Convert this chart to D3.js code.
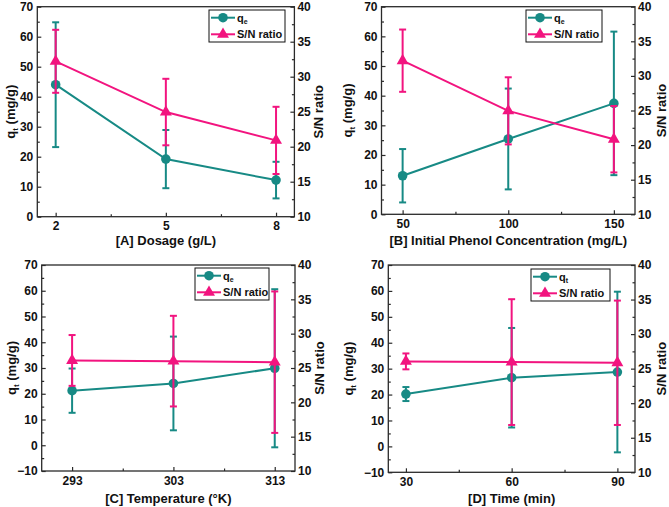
<!DOCTYPE html>
<html><head><meta charset="utf-8">
<script src="https://cdn.jsdelivr.net/npm/d3@7"></script>
<style>
body{margin:0;background:#fff}
text{font-family:"Liberation Sans",Arial,sans-serif;font-weight:bold;fill:#111}
</style>
</head><body>
<svg id="chart" width="669" height="507"></svg>
<script>
// ---------- data ----------
const dosage = [2, 5, 8];
const dosageQe = [44.0, 19.2, 12.2];
const dosageQeErr = [20.8, 9.7, 6.1];
const dosageSN = [32.2, 24.95, 20.9];
const dosageSNErr = [4.5, 4.75, 4.8];

const phenol = [50, 100, 150];
const phenolQe = [13.0, 25.4, 37.4];
const phenolQeErr = [9.0, 17.0, 24.2];
const phenolSN = [32.2, 24.95, 20.85];
const phenolSNErr = [4.5, 4.85, 4.8];

const temperature = [293, 303, 313];
const temperatureQe = [21.2, 24.0, 29.9];
const temperatureQeErr = [8.6, 18.2, 30.7];
const temperatureSN = [26.1, 26.0, 25.85];
const temperatureSNErr = [3.7, 6.6, 10.3];

const time = [30, 60, 90];
const timeQt = [20.2, 26.5, 28.7];
const timeQtErr = [2.7, 19.2, 31.0];
const timeSN = [26.05, 25.95, 25.85];
const timeSNErr = [1.15, 9.1, 9.0];

const xTitles = ["[A] Dosage (g/L)", "[B] Initial Phenol Concentration (mg/L)", "[C] Temperature (°K)", "[D] Time (min)"];
const legendSubs = ["e", "e", "e", "t"];
const yTitleSub = "t";
const leftTicksTop = [0, 10, 20, 30, 40, 50, 60, 70];
const leftTicksBottom = [-10, 0, 10, 20, 30, 40, 50, 60, 70];
const rightTicks = [10, 15, 20, 25, 30, 35, 40];
const snLabel = "S/N ratio";

// ---------- layout ----------
const teal = "#178a85", pink = "#f2147f", frameCol = "#2a2a2a";
const panels = [
  {x: dosage, q: dosageQe, qe: dosageQeErr, s: dosageSN, se: dosageSNErr,
   f: [37.3, 6.7, 294.4, 216.7], xd: [1.5, 8.5], yd: [0, 70], yt: leftTicksTop,
   leg: [209, 10, 285, 42], ylx: 10, yrx: 318, xty: 244.5},
  {x: phenol, q: phenolQe, qe: phenolQeErr, s: phenolSN, se: phenolSNErr,
   f: [381.5, 6.7, 635, 214.3], xd: [40, 160], yd: [0, 70], yt: leftTicksTop,
   leg: [526, 10, 602, 42], ylx: 347, yrx: 661, xty: 244.5},
  {x: temperature, q: temperatureQe, qe: temperatureQeErr, s: temperatureSN, se: temperatureSNErr,
   f: [41.7, 265, 295, 471], xd: [290, 315], yd: [-10, 70], yt: leftTicksBottom,
   leg: [195, 268, 269, 300], ylx: 11, yrx: 319, xty: 503},
  {x: time, q: timeQt, qe: timeQtErr, s: timeSN, se: timeSNErr,
   f: [388.3, 265, 635, 472.3], xd: [25, 95], yd: [-10, 70], yt: leftTicksBottom,
   leg: [531, 269, 610, 301], ylx: 348, yrx: 661, xty: 503}
];

const svg = d3.select("#chart");

function mids(arr){ const m=[]; for(let i=0;i<arr.length-1;i++) m.push((arr[i]+arr[i+1])/2); return m; }

function styleAxis(g){
  g.select(".domain").remove();
  g.selectAll(".tick line").attr("stroke", frameCol).attr("stroke-width", 1.2);
  g.selectAll(".tick text").style("font-size", "12px").attr("fill", "#111");
}

panels.forEach((p, i) => {
  const [x0, y0, x1, y1] = p.f;
  const xs = d3.scaleLinear().domain(p.xd).range([x0, x1]);
  const ys = d3.scaleLinear().domain(p.yd).range([y1, y0]);
  const y2 = d3.scaleLinear().domain([10, 40]).range([y1, y0]);
  const g = svg.append("g");

  // axes: ticks point inward
  const gx = g.append("g").attr("transform", `translate(0,${y1})`)
    .call(d3.axisBottom(xs).tickValues(p.x).tickSize(-4).tickPadding(8).tickFormat(d3.format("d")));
  styleAxis(gx);
  gx.selectAll(".tick text").attr("dy", "0.71em").attr("y", 5);
  g.append("g").attr("transform", `translate(0,${y1})`)
    .call(d3.axisBottom(xs).tickValues(mids(p.x)).tickSize(-2.5).tickFormat(""))
    .call(styleAxis);

  const gy = g.append("g").attr("transform", `translate(${x0},0)`)
    .call(d3.axisLeft(ys).tickValues(p.yt).tickSize(-4).tickPadding(4).tickFormat(d3.format("d")));
  styleAxis(gy);
  g.append("g").attr("transform", `translate(${x0},0)`)
    .call(d3.axisLeft(ys).tickValues(mids(p.yt)).tickSize(-2.5).tickFormat(""))
    .call(styleAxis);

  const gr = g.append("g").attr("transform", `translate(${x1},0)`)
    .call(d3.axisRight(y2).tickValues(rightTicks).tickSize(-4).tickPadding(3).tickFormat(d3.format("d")));
  styleAxis(gr);
  g.append("g").attr("transform", `translate(${x1},0)`)
    .call(d3.axisRight(y2).tickValues(mids(rightTicks)).tickSize(-2.5).tickFormat(""))
    .call(styleAxis);

  // frame
  g.append("rect").attr("x", x0).attr("y", y0).attr("width", x1 - x0).attr("height", y1 - y0)
    .attr("fill", "none").attr("stroke", frameCol).attr("stroke-width", 1.3);

  // axis titles
  g.append("text").attr("x", (x0 + x1) / 2).attr("y", p.xty).attr("text-anchor", "middle")
    .style("font-size", "13px").text(xTitles[i]);
  const yl = g.append("text").attr("transform", `translate(${p.ylx},${(y0 + y1) / 2}) rotate(-90)`)
    .attr("text-anchor", "middle").attr("dy", "0.35em").style("font-size", "13px");
  yl.append("tspan").text("q");
  yl.append("tspan").text(yTitleSub).style("font-size", "8px").attr("dy", 3);
  yl.append("tspan").text(" (mg/g)").attr("dy", -3);
  g.append("text").attr("transform", `translate(${p.yrx},${(y0 + y1) / 2}) rotate(-90)`)
    .attr("text-anchor", "middle").attr("dy", "0.35em").style("font-size", "13px").text(snLabel);

  // series
  const series = [
    {v: p.q, e: p.qe, sc: ys, col: teal, mark: d3.symbolCircle, size: 72},
    {v: p.s, e: p.se, sc: y2, col: pink, mark: d3.symbolTriangle, size: 62}
  ];
  series.forEach(s => {
    const idx = d3.range(p.x.length);
    const eb = g.append("g").attr("stroke", s.col).attr("stroke-width", 2);
    idx.forEach(k => {
      const cx = xs(p.x[k]), top = s.sc(s.v[k] + s.e[k]), bot = s.sc(s.v[k] - s.e[k]);
      eb.append("line").attr("x1", cx).attr("x2", cx).attr("y1", top).attr("y2", bot);
      eb.append("line").attr("x1", cx - 3.5).attr("x2", cx + 3.5).attr("y1", top).attr("y2", top);
      eb.append("line").attr("x1", cx - 3.5).attr("x2", cx + 3.5).attr("y1", bot).attr("y2", bot);
    });
    g.append("path").datum(idx)
      .attr("d", d3.line().x(k => xs(p.x[k])).y(k => s.sc(s.v[k])))
      .attr("fill", "none").attr("stroke", s.col).attr("stroke-width", 2);
    g.selectAll(null).data(idx).enter().append("path")
      .attr("transform", k => `translate(${xs(p.x[k])},${s.sc(s.v[k])})`)
      .attr("d", d3.symbol().type(s.mark).size(s.size)).attr("fill", s.col);
  });

  // legend
  const [lx0, ly0, lx1, ly1] = p.leg;
  const lg = g.append("g");
  lg.append("rect").attr("x", lx0).attr("y", ly0).attr("width", lx1 - lx0).attr("height", ly1 - ly0)
    .attr("fill", "#fff").attr("stroke", "#111").attr("stroke-width", 1);
  series.forEach((s, r) => {
    const ly = ly0 + 7.7 + r * 16.6;
    lg.append("line").attr("x1", lx0 + 2).attr("x2", lx0 + 26).attr("y1", ly).attr("y2", ly)
      .attr("stroke", s.col).attr("stroke-width", 2);
    lg.append("path").attr("transform", `translate(${lx0 + 14},${ly})`)
      .attr("d", d3.symbol().type(s.mark).size(s.size)).attr("fill", s.col);
    const t = lg.append("text").attr("x", lx0 + 28).attr("y", ly).attr("dy", "0.35em").style("font-size", "11px");
    if (r === 0) {
      t.append("tspan").text("q");
      t.append("tspan").text(legendSubs[i]).style("font-size", "7px").attr("dy", 2.5);
    } else {
      t.text(snLabel);
    }
  });
});
</script>
</body></html>
